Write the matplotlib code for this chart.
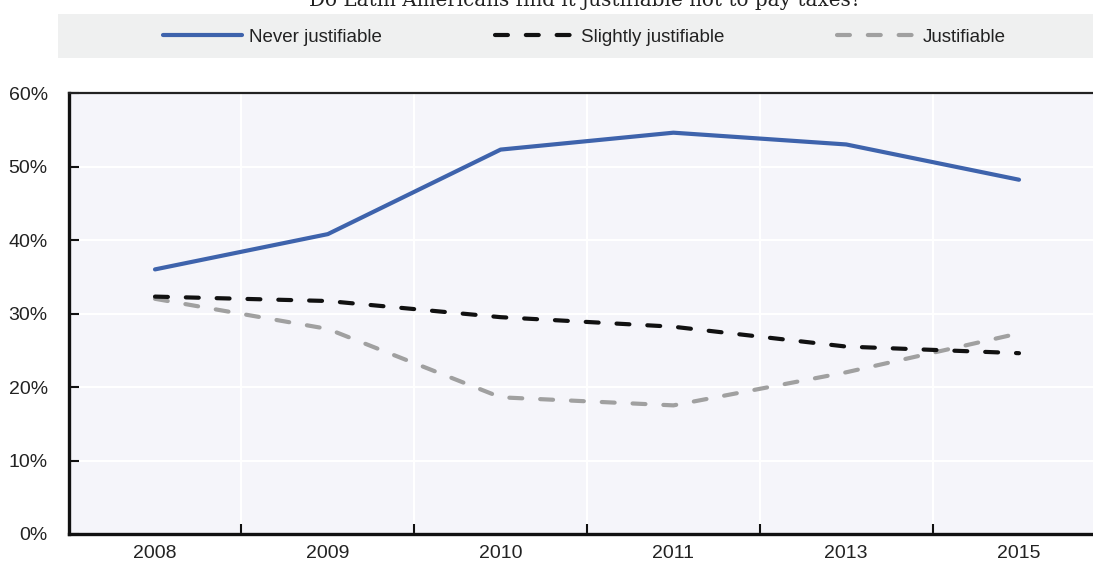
import matplotlib
matplotlib.use("Agg")
import matplotlib.pyplot as plt
import numpy as np
from matplotlib.patches import Rectangle
from matplotlib.ticker import FixedLocator, PercentFormatter

years = ["2008", "2009", "2010", "2011", "2013", "2015"]
never = [36.0, 40.8, 52.3, 54.6, 53.0, 48.2]
slightly = [32.3, 31.7, 29.5, 28.2, 25.5, 24.6]
justifiable = [32.0, 27.9, 18.6, 17.5, 22.0, 27.3]
series_names = ["Never justifiable", "Slightly justifiable", "Justifiable"]
title = "Do Latin Americans find it justifiable not to pay taxes?"

plt.rcParams['font.family'] = ['Liberation Sans', 'DejaVu Sans']

W, H = 1093, 562
fig = plt.figure(figsize=(W / 100, H / 100), dpi=100)
fig.patch.set_facecolor("white")

# legend band
fig.patches.append(Rectangle((58 / W, 1 - 58 / H), 1.0, 44 / H, transform=fig.transFigure,
                             facecolor="#EFF0F0", edgecolor="none", zorder=0))
fig.text(585 / W, 1 - 0.5 / H, title, family=["DejaVu Serif"], fontsize=14.3,
         ha="center", va="center", color="#222222")

ax = fig.add_axes([68.6 / W, (H - 534) / H, (1105.4 - 68.6) / W, (534 - 93) / H])
ax.set_facecolor("#F5F5FA")

x = np.arange(len(years))
blue = "#3E63AC"
black = "#111111"
gray = "#A0A0A0"
lw = 3.0
dash = (3.1, 4.3)
ax.plot(x, never, color=blue, lw=lw, solid_capstyle="round", solid_joinstyle="round",
        label=series_names[0], zorder=3)
ax.plot(x, slightly, color=black, lw=lw, dashes=dash, dash_capstyle="round",
        label=series_names[1], zorder=3)
ax.plot(x, justifiable, color=gray, lw=lw, dashes=dash, dash_capstyle="round",
        label=series_names[2], zorder=2.9)

ax.set_xlim(-0.5, len(years) - 0.5)
ax.set_ylim(0, 60)
ax.set_xticks(x)
ax.set_xticklabels(years)
ax.xaxis.set_minor_locator(FixedLocator(np.arange(len(years) - 1) + 0.5))
ax.set_yticks(np.arange(0, 61, 10))
ax.yaxis.set_major_formatter(PercentFormatter(decimals=0))

ax.tick_params(axis="x", which="major", length=0, pad=8, labelsize=14, colors="#222222")
ax.tick_params(axis="x", which="minor", direction="in", length=7, width=1.5, color="#111111")
ax.tick_params(axis="y", which="major", direction="in", length=7, width=1.5, color="#111111",
               pad=15, labelsize=14, labelcolor="#222222")

ax.grid(True, axis="y", which="major", color="white", lw=1.5, zorder=0)
ax.grid(True, axis="x", which="minor", color="white", lw=1.5, zorder=0)
ax.set_axisbelow(True)

for side in ["left", "bottom"]:
    ax.spines[side].set_linewidth(2.4)
    ax.spines[side].set_color("#111111")
ax.spines["top"].set_linewidth(1.6)
ax.spines["top"].set_color("#222222")
ax.spines["right"].set_visible(False)

handles, labels = ax.get_legend_handles_labels()
leg = fig.legend(handles, labels, ncol=3, loc="center left",
                 bbox_to_anchor=(163 / W, 1 - 37 / H), frameon=False,
                 fontsize=13.5, handlelength=4.2, handletextpad=0.4,
                 columnspacing=6.0, borderaxespad=0, borderpad=0)
for t in leg.get_texts():
    t.set_color("#222222")

fig.savefig("out.png", dpi=100)
